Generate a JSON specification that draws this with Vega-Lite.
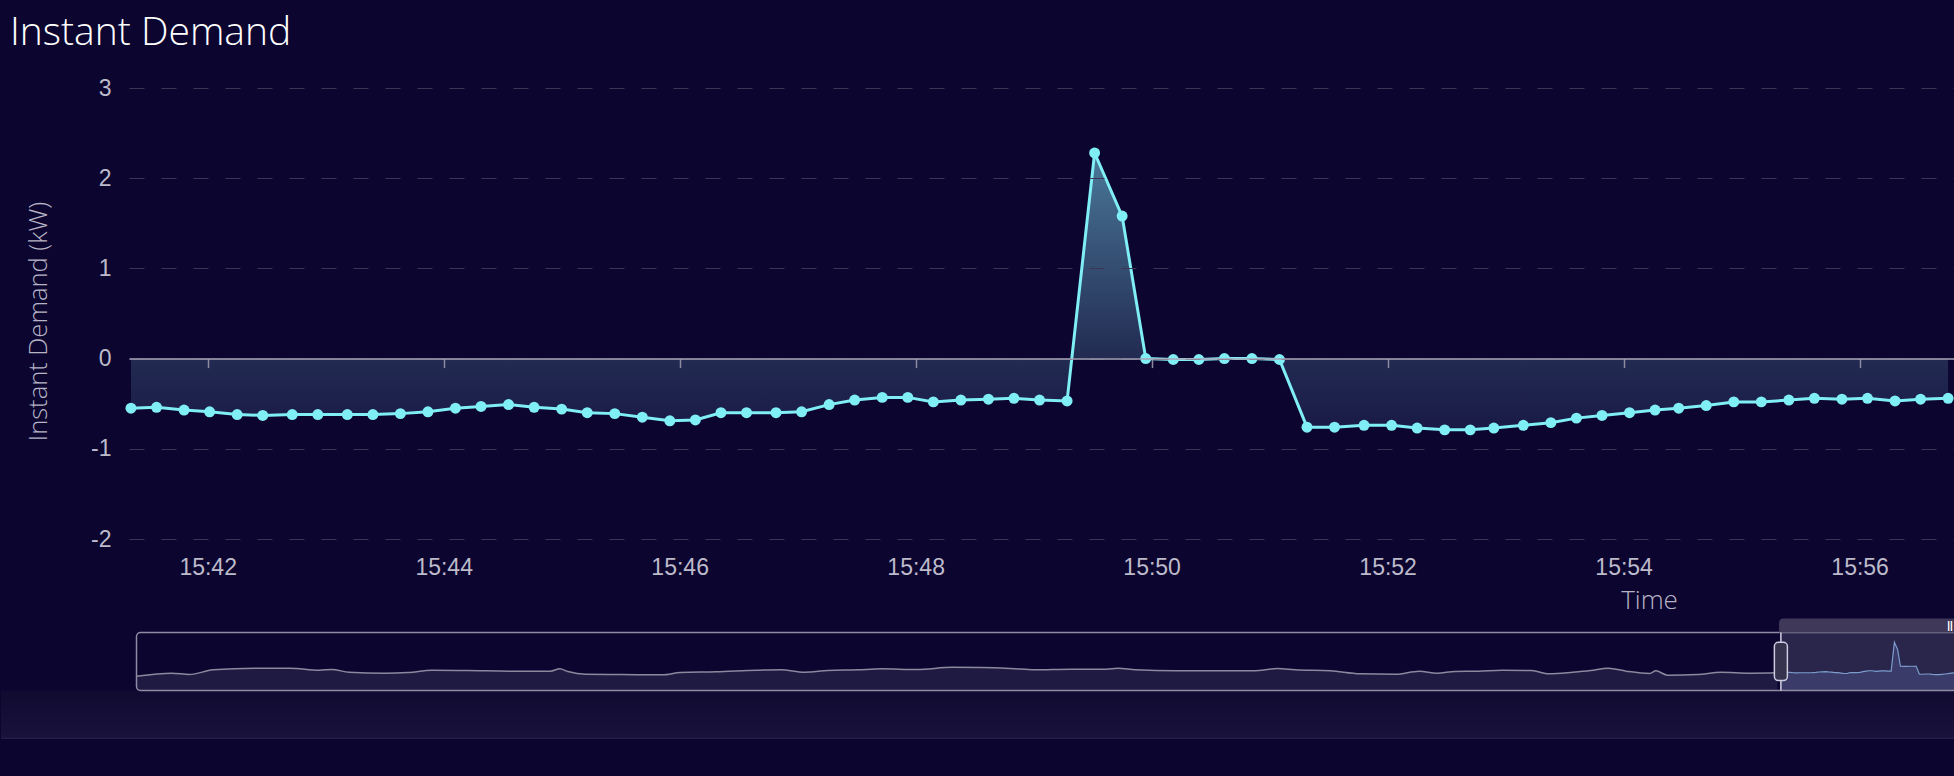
{
  "$schema": "https://vega.github.io/schema/vega-lite/v6.json",
  "background": "#0c0530",
  "padding": {"left": 0, "top": 14, "right": 0, "bottom": 37},
  "config": {
    "view": {"stroke": null},
    "locale": {"number": {"decimal": ".", "thousands": ",", "grouping": [3], "currency": ["$", ""], "minus": "-"}}
  },
  "datasets": {
    "main": [
      {"time": "2024-01-01T15:41:21", "demand": -0.55},
      {"time": "2024-01-01T15:41:34", "demand": -0.54},
      {"time": "2024-01-01T15:41:48", "demand": -0.57},
      {"time": "2024-01-01T15:42:01", "demand": -0.59},
      {"time": "2024-01-01T15:42:15", "demand": -0.62},
      {"time": "2024-01-01T15:42:28", "demand": -0.63},
      {"time": "2024-01-01T15:42:43", "demand": -0.62},
      {"time": "2024-01-01T15:42:56", "demand": -0.62},
      {"time": "2024-01-01T15:43:11", "demand": -0.62},
      {"time": "2024-01-01T15:43:24", "demand": -0.62},
      {"time": "2024-01-01T15:43:38", "demand": -0.61},
      {"time": "2024-01-01T15:43:52", "demand": -0.59},
      {"time": "2024-01-01T15:44:06", "demand": -0.55},
      {"time": "2024-01-01T15:44:19", "demand": -0.53},
      {"time": "2024-01-01T15:44:33", "demand": -0.51},
      {"time": "2024-01-01T15:44:46", "demand": -0.54},
      {"time": "2024-01-01T15:45:00", "demand": -0.56},
      {"time": "2024-01-01T15:45:13", "demand": -0.60},
      {"time": "2024-01-01T15:45:27", "demand": -0.61},
      {"time": "2024-01-01T15:45:41", "demand": -0.65},
      {"time": "2024-01-01T15:45:55", "demand": -0.69},
      {"time": "2024-01-01T15:46:08", "demand": -0.68},
      {"time": "2024-01-01T15:46:21", "demand": -0.60},
      {"time": "2024-01-01T15:46:34", "demand": -0.60},
      {"time": "2024-01-01T15:46:49", "demand": -0.60},
      {"time": "2024-01-01T15:47:02", "demand": -0.59},
      {"time": "2024-01-01T15:47:16", "demand": -0.51},
      {"time": "2024-01-01T15:47:29", "demand": -0.46},
      {"time": "2024-01-01T15:47:43", "demand": -0.43},
      {"time": "2024-01-01T15:47:56", "demand": -0.43},
      {"time": "2024-01-01T15:48:09", "demand": -0.48},
      {"time": "2024-01-01T15:48:23", "demand": -0.46},
      {"time": "2024-01-01T15:48:37", "demand": -0.45},
      {"time": "2024-01-01T15:48:50", "demand": -0.44},
      {"time": "2024-01-01T15:49:03", "demand": -0.46},
      {"time": "2024-01-01T15:49:17", "demand": -0.47},
      {"time": "2024-01-01T15:49:31", "demand": 2.28},
      {"time": "2024-01-01T15:49:45", "demand": 1.58},
      {"time": "2024-01-01T15:49:57", "demand": 0.0},
      {"time": "2024-01-01T15:50:11", "demand": -0.01},
      {"time": "2024-01-01T15:50:24", "demand": -0.01},
      {"time": "2024-01-01T15:50:37", "demand": 0.0},
      {"time": "2024-01-01T15:50:51", "demand": 0.0},
      {"time": "2024-01-01T15:51:05", "demand": -0.01},
      {"time": "2024-01-01T15:51:19", "demand": -0.76},
      {"time": "2024-01-01T15:51:33", "demand": -0.76},
      {"time": "2024-01-01T15:51:48", "demand": -0.74},
      {"time": "2024-01-01T15:52:02", "demand": -0.74},
      {"time": "2024-01-01T15:52:15", "demand": -0.77},
      {"time": "2024-01-01T15:52:29", "demand": -0.79},
      {"time": "2024-01-01T15:52:42", "demand": -0.79},
      {"time": "2024-01-01T15:52:54", "demand": -0.77},
      {"time": "2024-01-01T15:53:09", "demand": -0.74},
      {"time": "2024-01-01T15:53:23", "demand": -0.71},
      {"time": "2024-01-01T15:53:36", "demand": -0.66},
      {"time": "2024-01-01T15:53:49", "demand": -0.63},
      {"time": "2024-01-01T15:54:03", "demand": -0.60},
      {"time": "2024-01-01T15:54:16", "demand": -0.57},
      {"time": "2024-01-01T15:54:28", "demand": -0.55},
      {"time": "2024-01-01T15:54:42", "demand": -0.52},
      {"time": "2024-01-01T15:54:56", "demand": -0.48},
      {"time": "2024-01-01T15:55:10", "demand": -0.48},
      {"time": "2024-01-01T15:55:24", "demand": -0.46},
      {"time": "2024-01-01T15:55:37", "demand": -0.44},
      {"time": "2024-01-01T15:55:51", "demand": -0.45},
      {"time": "2024-01-01T15:56:04", "demand": -0.44},
      {"time": "2024-01-01T15:56:18", "demand": -0.47},
      {"time": "2024-01-01T15:56:31", "demand": -0.45},
      {"time": "2024-01-01T15:56:45", "demand": -0.44}
    ],
    "history": [
      {"time": "2024-01-01T13:43:03", "demand": -0.95},
      {"time": "2024-01-01T13:45:36", "demand": -0.66},
      {"time": "2024-01-01T13:46:52", "demand": -0.79},
      {"time": "2024-01-01T13:48:33", "demand": -0.34},
      {"time": "2024-01-01T13:51:33", "demand": -0.19},
      {"time": "2024-01-01T13:54:05", "demand": -0.19},
      {"time": "2024-01-01T13:56:13", "demand": -0.38},
      {"time": "2024-01-01T13:57:05", "demand": -0.31},
      {"time": "2024-01-01T13:58:21", "demand": -0.57},
      {"time": "2024-01-01T14:00:54", "demand": -0.66},
      {"time": "2024-01-01T14:02:34", "demand": -0.60},
      {"time": "2024-01-01T14:04:18", "demand": -0.38},
      {"time": "2024-01-01T14:06:51", "demand": -0.41},
      {"time": "2024-01-01T14:10:16", "demand": -0.47},
      {"time": "2024-01-01T14:12:49", "demand": -0.47},
      {"time": "2024-01-01T14:13:30", "demand": -0.25},
      {"time": "2024-01-01T14:14:05", "demand": -0.50},
      {"time": "2024-01-01T14:15:22", "demand": -0.76},
      {"time": "2024-01-01T14:17:55", "demand": -0.79},
      {"time": "2024-01-01T14:20:53", "demand": -0.82},
      {"time": "2024-01-01T14:22:10", "demand": -0.60},
      {"time": "2024-01-01T14:24:44", "demand": -0.53},
      {"time": "2024-01-01T14:27:42", "demand": -0.38},
      {"time": "2024-01-01T14:29:24", "demand": -0.34},
      {"time": "2024-01-01T14:31:06", "demand": -0.57},
      {"time": "2024-01-01T14:32:47", "demand": -0.41},
      {"time": "2024-01-01T14:34:55", "demand": -0.34},
      {"time": "2024-01-01T14:36:38", "demand": -0.25},
      {"time": "2024-01-01T14:39:11", "demand": -0.31},
      {"time": "2024-01-01T14:41:44", "demand": -0.10},
      {"time": "2024-01-01T14:43:52", "demand": -0.12},
      {"time": "2024-01-01T14:45:59", "demand": -0.22},
      {"time": "2024-01-01T14:47:41", "demand": -0.34},
      {"time": "2024-01-01T14:50:15", "demand": -0.28},
      {"time": "2024-01-01T14:52:47", "demand": -0.28},
      {"time": "2024-01-01T14:53:39", "demand": -0.19},
      {"time": "2024-01-01T14:54:55", "demand": -0.34},
      {"time": "2024-01-01T14:57:54", "demand": -0.44},
      {"time": "2024-01-01T15:01:18", "demand": -0.44},
      {"time": "2024-01-01T15:03:25", "demand": -0.44},
      {"time": "2024-01-01T15:05:08", "demand": -0.22},
      {"time": "2024-01-01T15:06:24", "demand": -0.34},
      {"time": "2024-01-01T15:08:57", "demand": -0.44},
      {"time": "2024-01-01T15:11:05", "demand": -0.72},
      {"time": "2024-01-01T15:13:38", "demand": -0.76},
      {"time": "2024-01-01T15:15:20", "demand": -0.47},
      {"time": "2024-01-01T15:16:37", "demand": -0.66},
      {"time": "2024-01-01T15:17:54", "demand": -0.50},
      {"time": "2024-01-01T15:19:35", "demand": -0.47},
      {"time": "2024-01-01T15:21:17", "demand": -0.38},
      {"time": "2024-01-01T15:23:25", "demand": -0.41},
      {"time": "2024-01-01T15:24:41", "demand": -0.72},
      {"time": "2024-01-01T15:26:23", "demand": -0.57},
      {"time": "2024-01-01T15:27:40", "demand": -0.41},
      {"time": "2024-01-01T15:28:56", "demand": -0.19},
      {"time": "2024-01-01T15:30:13", "demand": -0.47},
      {"time": "2024-01-01T15:31:55", "demand": -0.69},
      {"time": "2024-01-01T15:32:21", "demand": -0.44},
      {"time": "2024-01-01T15:33:12", "demand": -0.85},
      {"time": "2024-01-01T15:35:19", "demand": -0.79},
      {"time": "2024-01-01T15:37:02", "demand": -0.57},
      {"time": "2024-01-01T15:39:09", "demand": -0.66},
      {"time": "2024-01-01T15:41:06", "demand": -0.63}
    ]
  },
  "spacing": 92,
  "bounds": "flush",
  "vconcat": [
    {
      "width": 1826,
      "height": 451,
      "title": {
        "text": "Instant Demand",
        "anchor": "start",
        "frame": "group",
        "dx": -119,
        "offset": 24,
        "font": "Open Sans",
        "fontSize": 39,
        "fontWeight": 300,
        "color": "#ffffff"
      },
      "data": {"name": "main"},
      "layer": [
        {
          "mark": {
            "type": "area",
            "fill": {
              "gradient": "linear",
              "x1": 0, "y1": 0, "x2": 0, "y2": 1,
              "stops": [
                {"offset": 0, "color": "#4a7898"},
                {"offset": 0.74, "color": "#222b52"},
                {"offset": 1, "color": "#191a46"}
              ]
            }
          },
          "encoding": {
            "x": {
              "field": "time",
              "type": "temporal",
              "scale": {"domain": [
                {"year": 2024, "month": 1, "date": 1, "hours": 15, "minutes": 41, "seconds": 20},
                {"year": 2024, "month": 1, "date": 1, "hours": 15, "minutes": 56, "seconds": 48, "milliseconds": 500}
              ]},
              "axis": {
                "orient": "bottom",
                "offset": -180.4,
                "zindex": 1,
                "values": [
                  {"year": 2024, "month": 1, "date": 1, "hours": 15, "minutes": 42},
                  {"year": 2024, "month": 1, "date": 1, "hours": 15, "minutes": 44},
                  {"year": 2024, "month": 1, "date": 1, "hours": 15, "minutes": 46},
                  {"year": 2024, "month": 1, "date": 1, "hours": 15, "minutes": 48},
                  {"year": 2024, "month": 1, "date": 1, "hours": 15, "minutes": 50},
                  {"year": 2024, "month": 1, "date": 1, "hours": 15, "minutes": 52},
                  {"year": 2024, "month": 1, "date": 1, "hours": 15, "minutes": 54},
                  {"year": 2024, "month": 1, "date": 1, "hours": 15, "minutes": 56}
                ],
                "labels": false,
                "title": null,
                "grid": false,
                "domain": true,
                "domainColor": "#a7a4b6",
                "domainWidth": 1.5,
                "ticks": true,
                "tickColor": "#8e8ba1",
                "tickWidth": 1.5,
                "tickSize": 9
              }
            },
            "y": {
              "field": "demand",
              "type": "quantitative",
              "scale": {"domain": [-2, 3], "nice": false, "zero": false},
              "axis": {
                "values": [-2, -1, 0, 1, 2, 3],
                "format": "d",
                "zindex": 1,
                "grid": true,
                "gridDash": [15, 17],
                "gridColor": "#3b3558",
                "gridWidth": 1.2,
                "domain": false,
                "ticks": false,
                "labelPadding": 18,
                "labelFont": "Liberation Sans",
                "labelFontSize": 23,
                "labelColor": "#bdbbca",
                "title": "Instant Demand (kW)",
                "titleX": -91,
                "titleY": 233,
                "titleAngle": -90,
                "titleAlign": "center",
                "titleBaseline": "middle",
                "titleFont": "Open Sans",
                "titleFontSize": 25.5,
                "titleFontWeight": 300,
                "titleColor": "#b6b4c5"
              }
            },
            "y2": {"datum": 0}
          }
        },
        {
          "mark": {"type": "line", "color": "#80eef5", "strokeWidth": 3},
          "encoding": {
            "x": {
              "field": "time",
              "type": "temporal",
              "axis": {
                "orient": "bottom",
                "format": "%H:%M",
                "values": [
                  {"year": 2024, "month": 1, "date": 1, "hours": 15, "minutes": 42},
                  {"year": 2024, "month": 1, "date": 1, "hours": 15, "minutes": 44},
                  {"year": 2024, "month": 1, "date": 1, "hours": 15, "minutes": 46},
                  {"year": 2024, "month": 1, "date": 1, "hours": 15, "minutes": 48},
                  {"year": 2024, "month": 1, "date": 1, "hours": 15, "minutes": 50},
                  {"year": 2024, "month": 1, "date": 1, "hours": 15, "minutes": 52},
                  {"year": 2024, "month": 1, "date": 1, "hours": 15, "minutes": 54},
                  {"year": 2024, "month": 1, "date": 1, "hours": 15, "minutes": 56}
                ],
                "labelFlush": false,
                "domain": false,
                "ticks": false,
                "grid": false,
                "labelPadding": 17.6,
                "labelBaseline": "top",
                "labelFont": "Liberation Sans",
                "labelFontSize": 23,
                "labelColor": "#bdbbca",
                "title": "Time",
                "titleX": 1520,
                "titleY": 69,
                "titleAlign": "center",
                "titleBaseline": "alphabetic",
                "titleFont": "Open Sans",
                "titleFontSize": 26,
                "titleFontWeight": 300,
                "titleColor": "#b6b4c5"
              }
            },
            "y": {"field": "demand", "type": "quantitative"}
          }
        },
        {
          "mark": {"type": "point", "filled": true, "size": 120, "opacity": 1, "color": "#80eef5"},
          "encoding": {
            "x": {"field": "time", "type": "temporal", "axis": null},
            "y": {"field": "demand", "type": "quantitative"}
          }
        }
      ],
      "resolve": {"axis": {"x": "independent"}}
    },
    {
      "width": 1826,
      "height": 61,
      "layer": [
        {
          "data": {"values": [{}]},
          "mark": {
            "type": "rect",
            "fill": {
              "gradient": "linear",
              "x1": 0, "y1": 0, "x2": 0, "y2": 1,
              "stops": [
                {"offset": 0, "color": "#100930"},
                {"offset": 1, "color": "#19123c"}
              ]
            }
          },
          "encoding": {
            "x": {
              "datum": {"year": 2024, "month": 1, "date": 1, "hours": 13, "minutes": 33, "seconds": 18, "milliseconds": 100},
              "type": "temporal",
              "scale": {
                "domain": [
                  {"year": 2024, "month": 1, "date": 1, "hours": 13, "minutes": 42, "seconds": 30, "milliseconds": 600},
                  {"year": 2024, "month": 1, "date": 1, "hours": 15, "minutes": 53, "seconds": 52, "milliseconds": 600}
                ],
                "padding": 0
              },
              "axis": null
            },
            "x2": {"datum": {"year": 2024, "month": 1, "date": 1, "hours": 15, "minutes": 53, "seconds": 52}},
            "y": {"datum": -2.3, "type": "quantitative", "scale": {"domain": [-2.45, 3.35], "nice": false, "zero": false, "padding": 0}, "axis": null},
            "y2": {"datum": -6.85}
          }
        },
        {
          "data": {"values": [{}]},
          "mark": {"type": "rule", "color": "#241e47", "strokeWidth": 1.5},
          "encoding": {
            "x": {"datum": {"year": 2024, "month": 1, "date": 1, "hours": 13, "minutes": 33, "seconds": 18, "milliseconds": 100}, "type": "temporal"},
            "x2": {"datum": {"year": 2024, "month": 1, "date": 1, "hours": 15, "minutes": 53, "seconds": 52}},
            "y": {"datum": -6.85, "type": "quantitative"}
          }
        },
        {
          "data": {"name": "history"},
          "mark": {"type": "area", "interpolate": "monotone", "color": "#1f1a42"},
          "encoding": {
            "x": {"field": "time", "type": "temporal"},
            "y": {"field": "demand", "type": "quantitative"},
            "y2": {"datum": -2.3}
          }
        },
        {
          "data": {"name": "history"},
          "mark": {"type": "line", "interpolate": "monotone", "color": "#8c889e", "strokeWidth": 1.5},
          "encoding": {
            "x": {"field": "time", "type": "temporal"},
            "y": {"field": "demand", "type": "quantitative"}
          }
        },
        {
          "data": {"values": [{}]},
          "mark": {"type": "rect", "clip": true, "color": "#29254b"},
          "encoding": {
            "x": {"datum": {"year": 2024, "month": 1, "date": 1, "hours": 15, "minutes": 41, "seconds": 21}, "type": "temporal"},
            "x2": {"datum": {"year": 2024, "month": 1, "date": 1, "hours": 15, "minutes": 58}},
            "y": {"datum": -2.3, "type": "quantitative"},
            "y2": {"datum": 3.2}
          }
        },
        {
          "data": {"name": "main"},
          "mark": {"type": "area", "clip": true, "color": "#3b3b69"},
          "encoding": {
            "x": {"field": "time", "type": "temporal"},
            "y": {"field": "demand", "type": "quantitative"},
            "y2": {"datum": -2.3}
          }
        },
        {
          "data": {"name": "main"},
          "mark": {"type": "line", "clip": true, "color": "#7b9dcc", "strokeWidth": 1.2},
          "encoding": {
            "x": {"field": "time", "type": "temporal"},
            "y": {"field": "demand", "type": "quantitative"}
          }
        },
        {
          "data": {"values": [{}]},
          "mark": {"type": "rect", "clip": true, "fill": "transparent", "stroke": "#8f8ba4", "strokeWidth": 1.5, "cornerRadius": 4},
          "encoding": {
            "x": {"datum": {"year": 2024, "month": 1, "date": 1, "hours": 13, "minutes": 43, "seconds": 3}, "type": "temporal"},
            "x2": {"datum": {"year": 2024, "month": 1, "date": 1, "hours": 15, "minutes": 58}},
            "y": {"datum": -2.3, "type": "quantitative"},
            "y2": {"datum": 3.2}
          }
        },
        {
          "data": {"values": [{}]},
          "mark": {"type": "rect", "color": "#3f3859", "cornerRadiusTopLeft": 4},
          "encoding": {
            "x": {"datum": {"year": 2024, "month": 1, "date": 1, "hours": 15, "minutes": 41, "seconds": 13}, "type": "temporal"},
            "x2": {"datum": {"year": 2024, "month": 1, "date": 1, "hours": 15, "minutes": 53, "seconds": 52}},
            "y": {"datum": 3.2, "type": "quantitative"},
            "y2": {"datum": 4.53}
          }
        },
        {
          "data": {"values": [{}]},
          "mark": {"type": "text", "text": "||", "font": "Liberation Sans", "fontWeight": "bold", "fontSize": 10, "color": "#ffffff", "baseline": "middle"},
          "encoding": {
            "x": {"datum": {"year": 2024, "month": 1, "date": 1, "hours": 15, "minutes": 53, "seconds": 31}, "type": "temporal"},
            "y": {"datum": 3.87, "type": "quantitative"}
          }
        },
        {
          "data": {"values": [{}]},
          "mark": {"type": "rule", "color": "#d3d1e2", "strokeWidth": 1.5},
          "encoding": {
            "x": {"datum": {"year": 2024, "month": 1, "date": 1, "hours": 15, "minutes": 41, "seconds": 21}, "type": "temporal"},
            "y": {"datum": -2.3, "type": "quantitative"},
            "y2": {"datum": 3.2}
          }
        },
        {
          "data": {"values": [{}]},
          "mark": {"type": "bar", "size": 13, "fill": "#36334f", "stroke": "#cdcbdf", "strokeWidth": 1.5, "cornerRadius": 4},
          "encoding": {
            "x": {"datum": {"year": 2024, "month": 1, "date": 1, "hours": 15, "minutes": 41, "seconds": 21}, "type": "temporal"},
            "y": {"datum": 2.27, "type": "quantitative"},
            "y2": {"datum": -1.36}
          }
        }
      ]
    }
  ]
}
